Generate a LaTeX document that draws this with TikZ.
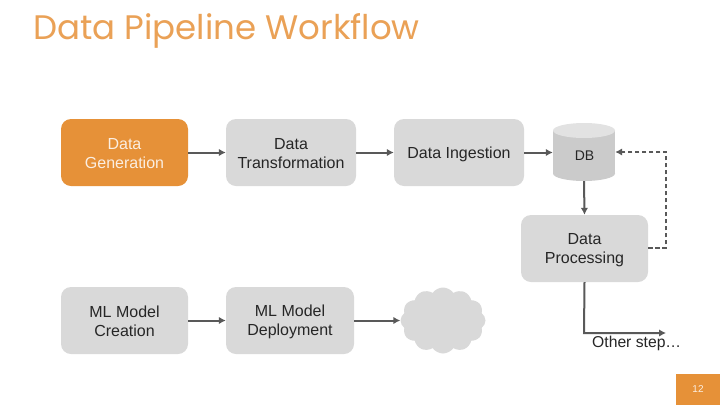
\documentclass[tikz,border=0pt]{standalone}
\usepackage{fontspec}
\setmainfont{Liberation Sans}
\newfontfamily\titlefont{Poppins}
\usetikzlibrary{shapes.geometric,shapes.symbols,arrows.meta,positioning}
\definecolor{accent}{HTML}{E69138}
\definecolor{boxgrey}{HTML}{D9D9D9}
\definecolor{dbbody}{HTML}{CBCBCB}
\definecolor{dbtop}{HTML}{E2E2E2}
\definecolor{linegrey}{HTML}{595959}
\newcommand\dropline{\rule{0pt}{13.8pt}}
\tikzset{
  x=1pt,y=-1pt,
  flowbox/.style={rounded corners=10pt,fill=boxgrey,draw=none,minimum height=67pt,align=center,inner sep=0pt,text=black!85,font=\fontsize{16}{19}\selectfont},
  hot/.style={fill=accent,text=white!85!accent},
  flowline/.style={draw=linegrey,line width=2pt,-{Latex[length=7pt,width=7.5pt]}},
  dashline/.style={flowline,dash pattern=on 4.5pt off 2.5pt},
  label/.style={font=\fontsize{15.7}{19}\selectfont,inner sep=0pt,text=black!85},
  dbcap/.style={ellipse,draw=none,minimum width=62pt,minimum height=15pt,inner sep=0pt}
}
\begin{document}
\begin{tikzpicture}
\useasboundingbox (0,0) rectangle (720,405);
\fill[white] (0,0) rectangle (720,405);
\node[anchor=west,inner sep=0pt,text=accent!85!white,font=\titlefont\fontsize{34}{40}\selectfont] (title) at (33,31) {Data Pipeline Workflow};
\node[flowbox,hot,minimum width=127pt] (gen) at (124.5,152.5) {\dropline Data\\Generation};
\node[flowbox,minimum width=130pt] (trans) at (291,152.5) {\dropline Data\\Transformation};
\node[flowbox,minimum width=130pt] (ing) at (459,152.5) {\rule{0pt}{14.8pt}Data Ingestion};
\node[flowbox,minimum width=127pt] (proc) at (584.5,248.5) {\dropline Data\\Processing};
\node[flowbox,minimum width=127pt] (create) at (124.5,320.5) {\dropline ML Model\\Creation};
\node[flowbox,minimum width=128pt] (deploy) at (290,320.5) {\dropline ML Model\\Deployment};
\node[dbcap,fill=dbbody] (dbbot) at (584,173.5) {};
\node[fill=dbbody,draw=none,minimum width=62pt,minimum height=43pt,inner sep=0pt] (db) at (584,152) {};
\node[dbcap,fill=dbtop] (dbcover) at (584,130.5) {};
\node[font=\fontsize{14}{16}\selectfont,inner sep=0pt,text=black!85] (dbt) at (584.5,156) {DB};
\node[cloud,cloud puffs=12,cloud puff arc=110,aspect=1.3,fill=boxgrey,draw=none,minimum width=85pt,minimum height=66pt,inner sep=0pt] (cl) at (443,320.5) {};
\node[label,anchor=west] (other) at (592,343) {Other step…};
\coordinate (turn) at (584,333);
\coordinate (end) at (666,333);
\coordinate (dc) at (666,247.5);
\coordinate (du) at (666,152);
\draw[flowline] (gen.east) -- (trans.west);
\draw[flowline] (trans.east) -- (ing.west);
\draw[flowline] (ing.east) -- (ing.east -| db.west);
\draw[flowline] (create.east) -- (deploy.west);
\draw[flowline] (deploy.east) -- (cl.west);
\draw[flowline] (dbbot.south) -- (proc.north);
\draw[flowline] (proc.south) -- (turn) -- (end);
\draw[dashline] (proc.east |- dc) -- (dc) -- (du) -- (db.east |- du);
\fill[accent] (676,374) rectangle (720,405);
\node[inner sep=0pt,text=white!85!accent,font=\fontsize{10}{12}\selectfont] (pg) at (698,389.5) {12};
\end{tikzpicture}
\end{document}
